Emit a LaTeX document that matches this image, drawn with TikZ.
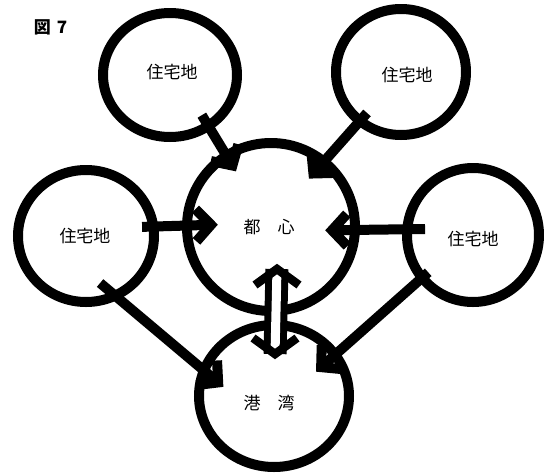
\documentclass[tikz,border=0pt]{standalone}
\usepackage{fontspec}
\setmainfont{Noto Sans CJK JP}
\usetikzlibrary{calc,shapes.geometric}
\newcommand{\flowarr}[2]{%
  \draw[flow] (#1) -- (#2);
  \draw[flow] ($(#2)!22pt!47:(#1)$) -- (#2) -- ($(#2)!22pt!-47:(#1)$);}
\begin{document}
\begin{tikzpicture}[x=1pt,y=-1pt,
  ring/.style={draw, ellipse, line width=10pt, inner sep=0pt, outer sep=0pt},
  lbl/.style={font=\fontsize{17}{17}\selectfont},
  flow/.style={line width=10pt, line join=miter},
  dbl/.style={double, line width=7pt, double distance=9pt},
  chev/.style={line width=8.5pt, line join=miter}
]
\useasboundingbox (0,0) rectangle (544,472);

\node[font=\fontsize{17}{17}\selectfont\bfseries] (title) at (50.5,27) {図\hspace{6pt}7};

\node[ring, minimum width=134pt, minimum height=124pt,
  label={[lbl,xshift=2pt,yshift=3pt]center:住宅地}] (tl) at (170,75) {};
\node[ring, minimum width=130pt, minimum height=126pt,
  label={[lbl,xshift=6pt,yshift=-3pt]center:住宅地}] (tr) at (401,72) {};
\node[ring, minimum width=136pt, minimum height=132pt,
  label={[lbl,xshift=-1pt]center:住宅地}] (l) at (86,236) {};
\node[ring, minimum width=132pt, minimum height=134pt,
  label={[lbl,yshift=-4pt]center:住宅地}] (r) at (473,235) {};
\node[ring, minimum width=168pt, minimum height=168pt,
  label={[lbl,xshift=-2pt]center:都\quad 心}] (c) at (271,227) {};
\node[ring, minimum width=150pt, minimum height=142pt,
  label={[lbl,xshift=-5pt,yshift=-7pt]center:港\quad 湾}] (b) at (274,396) {};

% arrow start points and chevron vertices
\coordinate (s1) at ($(tl.-53)!-12.5pt!(c.122)$);
\coordinate (v1) at ($(c.122)!-11.4pt!(tl.-53)$);
\coordinate (s2) at ($(tr.-130)!-10.6pt!(c.51.5)$);
\coordinate (v2) at ($(c.51.5)!-15.7pt!(tr.-130)$);
\coordinate (s3) at ($(l.8.5)!-11.2pt!(c.179.3)$);
\coordinate (v3) at ($(c.179.3)!-24pt!(l.8.5)$);
\coordinate (s4) at ($(r.175.7)!-17.8pt!(c.-2)$);
\coordinate (v4) at ($(c.-2)!-22.9pt!(r.175.7)$);
\coordinate (s5) at ($(l.-64.2)!-19.6pt!(b.160.7)$);
\coordinate (v5) at ($(b.160.7)!-18.5pt!(l.-64.2)$);
\coordinate (s6) at ($(r.-140.4)!-8.1pt!(b.34.8)$);
\coordinate (v6) at ($(b.34.8)!-18.6pt!(r.-140.4)$);

\flowarr{s1}{v1}
\flowarr{s2}{v2}
\flowarr{s3}{v3}
\flowarr{s4}{v4}
\flowarr{s5}{v5}
\flowarr{s6}{v6}

\coordinate (dt) at ($(c.south)+(6,-42)$);
\coordinate (db) at ($(b.north)+(1,29)$);
\draw[dbl] (dt) -- (db);
\draw[chev] ($(dt)+(-22,16)$) -- (dt) -- ($(dt)+(22,16)$);
\draw[chev] ($(db)+(-22,-16)$) -- (db) -- ($(db)+(22,-16)$);
\end{tikzpicture}
\end{document}
